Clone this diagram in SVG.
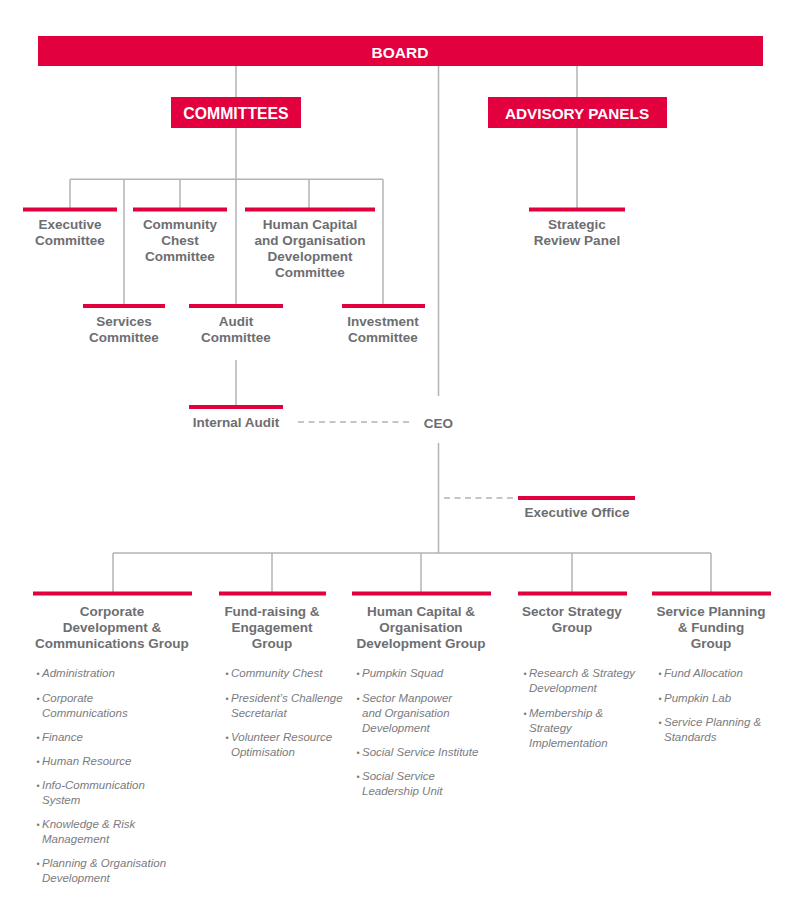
<svg xmlns="http://www.w3.org/2000/svg" width="800" height="914" viewBox="0 0 800 914">
<style>
.hdr{fill:#E2003F}
.bar{fill:#E2003F}
.ht{font-family:"Liberation Sans",Arial,sans-serif;font-weight:bold;fill:#fff;text-anchor:middle}
.t{font-family:"Liberation Sans",Arial,sans-serif;font-weight:bold;font-size:13.5px;fill:#6d6e71;text-anchor:middle}
.b{font-family:"Liberation Sans",Arial,sans-serif;font-style:italic;font-size:11.5px;fill:#7a7b7e}
.d{font-size:9px;font-style:normal}
.ln{stroke:#b3b3b3;stroke-width:1.5;fill:none}
.dl{stroke:#b3b3b3;stroke-width:1.5;fill:none;stroke-dasharray:6 4.5}
</style>
<rect width="800" height="914" fill="#fff"/>
<g id="connectors">
<line class="ln" x1="236" y1="66" x2="236" y2="97"/>
<line class="ln" x1="236" y1="128" x2="236" y2="304"/>
<line class="ln" x1="70" y1="179.3" x2="383" y2="179.3"/>
<line class="ln" x1="70" y1="179.3" x2="70" y2="208"/>
<line class="ln" x1="124" y1="179.3" x2="124" y2="304"/>
<line class="ln" x1="180" y1="179.3" x2="180" y2="208"/>
<line class="ln" x1="309" y1="179.3" x2="309" y2="208"/>
<line class="ln" x1="383" y1="179.3" x2="383" y2="304"/>
<line class="ln" x1="236" y1="360" x2="236" y2="405"/>
<line class="ln" x1="438.5" y1="66" x2="438.5" y2="396"/>
<line class="ln" x1="438.5" y1="443" x2="438.5" y2="553"/>
<line class="ln" x1="577" y1="66" x2="577" y2="97"/>
<line class="ln" x1="577" y1="128" x2="577" y2="208"/>
<line class="ln" x1="113" y1="553" x2="711" y2="553"/>
<line class="ln" x1="113" y1="553" x2="113" y2="592"/>
<line class="ln" x1="272" y1="553" x2="272" y2="592"/>
<line class="ln" x1="421" y1="553" x2="421" y2="592"/>
<line class="ln" x1="572" y1="553" x2="572" y2="592"/>
<line class="ln" x1="711" y1="553" x2="711" y2="592"/>
<line class="dl" x1="298" y1="422" x2="412" y2="422"/>
<line class="dl" x1="444" y1="498" x2="517" y2="498"/>
</g>
<g id="board">
<rect class="hdr" x="38" y="36" width="725" height="30"/>
<text class="ht" x="400" y="58" font-size="15.5">BOARD</text>
</g>
<g id="committees">
<rect class="hdr" x="171" y="97" width="130" height="31"/>
<text class="ht" x="236" y="119" font-size="15.8">COMMITTEES</text>
</g>
<g id="advisory-panels">
<rect class="hdr" x="488" y="97" width="179" height="31"/>
<text class="ht" x="577" y="119" font-size="15.3">ADVISORY PANELS</text>
</g>
<g id="executive-committee">
<rect class="bar" x="23" y="207.5" width="94" height="4"/>
<text class="t" x="70" y="229">Executive<tspan x="70" dy="16">Committee</tspan></text>
</g>
<g id="community-chest-committee">
<rect class="bar" x="133" y="207.5" width="94" height="4"/>
<text class="t" x="180" y="229">Community<tspan x="180" dy="16">Chest</tspan><tspan x="180" dy="16">Committee</tspan></text>
</g>
<g id="hcod-committee">
<rect class="bar" x="245" y="207.5" width="130" height="4"/>
<text class="t" x="310" y="229">Human Capital<tspan x="310" dy="16">and Organisation</tspan><tspan x="310" dy="16">Development</tspan><tspan x="310" dy="16">Committee</tspan></text>
</g>
<g id="strategic-review-panel">
<rect class="bar" x="529" y="207.5" width="96" height="4"/>
<text class="t" x="577" y="229">Strategic<tspan x="577" dy="16">Review Panel</tspan></text>
</g>
<g id="services-committee">
<rect class="bar" x="83" y="304" width="82" height="4"/>
<text class="t" x="124" y="325.5">Services<tspan x="124" dy="16">Committee</tspan></text>
</g>
<g id="audit-committee">
<rect class="bar" x="189" y="304" width="94" height="4"/>
<text class="t" x="236" y="325.5">Audit<tspan x="236" dy="16">Committee</tspan></text>
</g>
<g id="investment-committee">
<rect class="bar" x="342" y="304" width="83" height="4"/>
<text class="t" x="383" y="325.5">Investment<tspan x="383" dy="16">Committee</tspan></text>
</g>
<g id="internal-audit">
<rect class="bar" x="189" y="405" width="94" height="4"/>
<text class="t" x="236" y="427">Internal Audit</text>
</g>
<g id="ceo">
<text class="t" x="438.5" y="427.5" font-size="15.8">CEO</text>
</g>
<g id="executive-office">
<rect class="bar" x="518" y="496" width="117" height="4"/>
<text class="t" x="577" y="517">Executive Office</text>
</g>
<g id="corporate-group">
<rect class="bar" x="33" y="591.5" width="159" height="4"/>
<text class="t" x="112" y="615.5">Corporate<tspan x="112" dy="16">Development &amp;</tspan><tspan x="112" dy="16">Communications Group</tspan></text>
<text class="b"><tspan class="d" x="36.5" y="677">•</tspan><tspan x="42" y="677">Administration</tspan><tspan class="d" x="36.5" y="701.5">•</tspan><tspan x="42" y="701.5">Corporate</tspan><tspan x="42" y="716.5">Communications</tspan><tspan class="d" x="36.5" y="740.5">•</tspan><tspan x="42" y="740.5">Finance</tspan><tspan class="d" x="36.5" y="764.5">•</tspan><tspan x="42" y="764.5">Human Resource</tspan><tspan class="d" x="36.5" y="788.5">•</tspan><tspan x="42" y="788.5">Info-Communication</tspan><tspan x="42" y="803.5">System</tspan><tspan class="d" x="36.5" y="827.5">•</tspan><tspan x="42" y="827.5">Knowledge &amp; Risk</tspan><tspan x="42" y="842.5">Management</tspan><tspan class="d" x="36.5" y="866.5">•</tspan><tspan x="42" y="866.5">Planning &amp; Organisation</tspan><tspan x="42" y="881.5">Development</tspan></text>
</g>
<g id="fundraising-group">
<rect class="bar" x="219" y="591.5" width="107" height="4"/>
<text class="t" x="272" y="615.5">Fund-raising &amp;<tspan x="272" dy="16">Engagement</tspan><tspan x="272" dy="16">Group</tspan></text>
<text class="b"><tspan class="d" x="225.5" y="677">•</tspan><tspan x="231" y="677">Community Chest</tspan><tspan class="d" x="225.5" y="701.5">•</tspan><tspan x="231" y="701.5">President’s Challenge</tspan><tspan x="231" y="716.5">Secretariat</tspan><tspan class="d" x="225.5" y="740.5">•</tspan><tspan x="231" y="740.5">Volunteer Resource</tspan><tspan x="231" y="755.5">Optimisation</tspan></text>
</g>
<g id="hcod-group">
<rect class="bar" x="352" y="591.5" width="139" height="4"/>
<text class="t" x="421" y="615.5">Human Capital &amp;<tspan x="421" dy="16">Organisation</tspan><tspan x="421" dy="16">Development Group</tspan></text>
<text class="b"><tspan class="d" x="356.5" y="677">•</tspan><tspan x="362" y="677">Pumpkin Squad</tspan><tspan class="d" x="356.5" y="701.5">•</tspan><tspan x="362" y="701.5">Sector Manpower</tspan><tspan x="362" y="716.5">and Organisation</tspan><tspan x="362" y="731.5">Development</tspan><tspan class="d" x="356.5" y="755.5">•</tspan><tspan x="362" y="755.5">Social Service Institute</tspan><tspan class="d" x="356.5" y="779.5">•</tspan><tspan x="362" y="779.5">Social Service</tspan><tspan x="362" y="794.5">Leadership Unit</tspan></text>
</g>
<g id="sector-strategy-group">
<rect class="bar" x="518" y="591.5" width="109" height="4"/>
<text class="t" x="572" y="615.5">Sector Strategy<tspan x="572" dy="16">Group</tspan></text>
<text class="b"><tspan class="d" x="523.5" y="677">•</tspan><tspan x="529" y="677">Research &amp; Strategy</tspan><tspan x="529" y="692">Development</tspan><tspan class="d" x="523.5" y="716.5">•</tspan><tspan x="529" y="716.5">Membership &amp;</tspan><tspan x="529" y="731.5">Strategy</tspan><tspan x="529" y="746.5">Implementation</tspan></text>
</g>
<g id="service-planning-group">
<rect class="bar" x="652" y="591.5" width="119" height="4"/>
<text class="t" x="711" y="615.5">Service Planning<tspan x="711" dy="16">&amp; Funding</tspan><tspan x="711" dy="16">Group</tspan></text>
<text class="b"><tspan class="d" x="658.5" y="677">•</tspan><tspan x="664" y="677">Fund Allocation</tspan><tspan class="d" x="658.5" y="701.5">•</tspan><tspan x="664" y="701.5">Pumpkin Lab</tspan><tspan class="d" x="658.5" y="725.5">•</tspan><tspan x="664" y="725.5">Service Planning &amp;</tspan><tspan x="664" y="740.5">Standards</tspan></text>
</g>
</svg>
